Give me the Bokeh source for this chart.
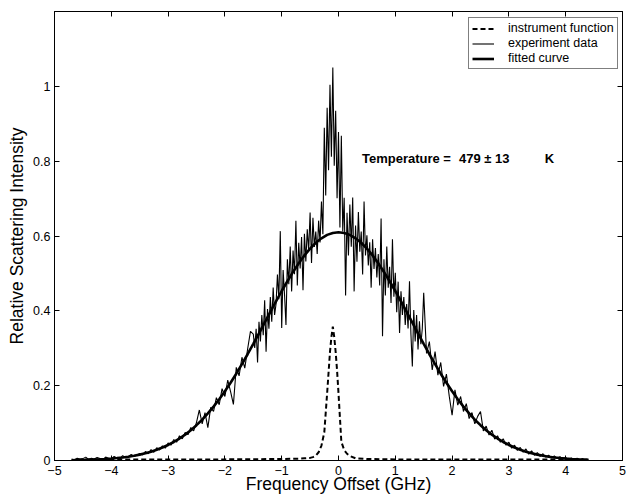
import numpy as np
from bokeh.plotting import figure
from bokeh.models import (Range1d, LinearAxis, FixedTicker, CustomJSTickFormatter,
                          Legend, LegendItem, Label)
from bokeh.embed import file_html
from bokeh.resources import INLINE

# ---------------- data ----------------
# experiment data: three sampling segments
exp_x_left = np.linspace(-4.70, -1.55, 64)
exp_y_left = [0.004, 0.002, 0.006, 0.003, 0.005, 0.009, 0.003, 0.006, 0.004, 0.008,
              0.005, 0.003, 0.009, 0.006, 0.004, 0.011, 0.007, 0.005, 0.013, 0.008,
              0.010, 0.016, 0.011, 0.014, 0.019,
              0.015, 0.024, 0.018, 0.029, 0.022, 0.034, 0.028, 0.039, 0.033, 0.047,
              0.041, 0.056, 0.049, 0.066, 0.058, 0.075, 0.069, 0.088, 0.079, 0.102,
              0.135, 0.098, 0.128, 0.088, 0.142, 0.131, 0.168, 0.149, 0.192, 0.171,
              0.215, 0.184, 0.150, 0.249, 0.226, 0.276, 0.247, 0.298, 0.345]

exp_x_mid = np.linspace(-1.500, 1.475, 120)
exp_y_mid = [0.338, 0.301, 0.352, 0.262, 0.371, 0.318, 0.389, 0.335,
             0.428, 0.291, 0.405, 0.352, 0.437, 0.371, 0.462, 0.389,
             0.418, 0.497, 0.431, 0.613, 0.354, 0.509, 0.443, 0.362,
             0.538, 0.471, 0.572, 0.452, 0.561, 0.498, 0.641, 0.468,
             0.582, 0.513, 0.597, 0.455, 0.606, 0.532, 0.618, 0.561,
             0.663, 0.528, 0.649, 0.571, 0.612, 0.552, 0.641, 0.583,
             0.692, 0.605, 0.889, 0.708, 0.943, 0.776, 1.004, 0.812,
             1.050, 0.788, 0.935, 0.701, 0.878, 0.623, 0.868, 0.612,
             0.702, 0.441, 0.662, 0.548, 0.684, 0.571, 0.703, 0.452,
             0.628, 0.531, 0.664, 0.558, 0.612, 0.497, 0.692, 0.548,
             0.602, 0.521, 0.583, 0.462, 0.591, 0.512, 0.568, 0.489,
             0.552, 0.468, 0.647, 0.332, 0.538, 0.441, 0.572, 0.462,
             0.518, 0.421, 0.591, 0.438, 0.502, 0.396, 0.478, 0.341,
             0.452, 0.389, 0.437, 0.362, 0.418, 0.353, 0.479, 0.338,
             0.251, 0.402, 0.318, 0.389, 0.297, 0.372, 0.311, 0.352]

exp_x_right = np.linspace(1.50, 4.40, 59)
exp_y_right = [0.448, 0.286, 0.318, 0.242, 0.291, 0.228, 0.262, 0.198, 0.231, 0.172,
               0.121, 0.189, 0.148, 0.171, 0.131, 0.152, 0.112, 0.128, 0.098, 0.118,
               0.131, 0.079, 0.092, 0.068, 0.081, 0.057, 0.066, 0.049, 0.058, 0.041,
               0.049, 0.033, 0.041, 0.027, 0.035, 0.022, 0.031, 0.017, 0.026, 0.014,
               0.021, 0.011, 0.018, 0.009, 0.014, 0.007, 0.012, 0.006, 0.010, 0.004,
               0.008, 0.003, 0.007, 0.002, 0.006, 0.002, 0.005, 0.001, 0.003]

# fitted curve
fit_x = np.linspace(-4.7, 4.4, 92)
fit_y = [0.0008, 0.0011, 0.0014, 0.0019, 0.0024, 0.0031, 0.0040, 0.0051, 0.0065, 0.0082,
         0.0102, 0.0127, 0.0157, 0.0193, 0.0236, 0.0287, 0.0346, 0.0415, 0.0495, 0.0587,
         0.0692, 0.0810, 0.0944, 0.1090, 0.1258, 0.1440, 0.1636, 0.1850, 0.2077, 0.2320,
         0.2574, 0.2840, 0.3117, 0.3400, 0.3683, 0.3970, 0.4251, 0.4530, 0.4790, 0.5040,
         0.5270, 0.5480, 0.5661, 0.5820, 0.5938, 0.6030, 0.6082, 0.6100,
         0.6082, 0.6030, 0.5938, 0.5820, 0.5661, 0.5480, 0.5270, 0.5040, 0.4790, 0.4530,
         0.4251, 0.3970, 0.3683, 0.3400, 0.3117, 0.2840, 0.2574, 0.2320, 0.2077, 0.1850,
         0.1636, 0.1440, 0.1258, 0.1090, 0.0944, 0.0810, 0.0692, 0.0587, 0.0495, 0.0415,
         0.0346, 0.0287, 0.0236, 0.0193, 0.0157, 0.0127, 0.0102, 0.0082, 0.0065, 0.0051,
         0.0040, 0.0031, 0.0024, 0.0019]

# instrument function
inst_x = [-4.6, -3.0, -2.0, -1.0, -0.7, -0.6, -0.5, -0.45, -0.4, -0.35, -0.3, -0.25,
          -0.2, -0.15, -0.125, -0.1, -0.075, -0.05, -0.025, 0.0, 0.05, 0.1, 0.15, 0.2,
          0.3, 0.5, 1.0, 2.0, 3.0, 4.4]
inst_y = [0.003, 0.003, 0.003, 0.004, 0.005, 0.006, 0.007, 0.009, 0.013, 0.022, 0.040,
          0.075, 0.180, 0.290, 0.330, 0.358, 0.330, 0.290, 0.240, 0.180, 0.050, 0.028,
          0.018, 0.012, 0.006, 0.004, 0.003, 0.003, 0.003, 0.003]

x_ticks = [-5, -4, -3, -2, -1, 0, 1, 2, 3, 4, 5]
y_ticks = [0, 0.2, 0.4, 0.6, 0.8, 1.0]

exp_x = np.concatenate([exp_x_left, exp_x_mid, exp_x_right])
exp_y = np.array(exp_y_left + exp_y_mid + exp_y_right)

FONT = "Liberation Sans"

p = figure(width=634, height=497, output_backend="svg", toolbar_location=None,
           x_range=Range1d(-5, 5), y_range=Range1d(0, 1.2),
           min_border_left=54, min_border_right=12, min_border_top=11, min_border_bottom=37)
p.grid.visible = False
p.outline_line_color = "black"
p.outline_line_width = 1
p.background_fill_color = "white"
p.border_fill_color = "white"

r_inst = p.line(inst_x, inst_y, line_color="black", line_width=2, line_dash="5 3")
r_exp = p.line(exp_x, exp_y, line_color="black", line_width=1.1)
r_fit = p.line(fit_x, fit_y, line_color="black", line_width=2.6)

xfmt = CustomJSTickFormatter(code="""
var v = Math.round(tick*10)/10;
return v < 0 ? "\u2212" + (-v) : "" + v;
""")
yfmt = CustomJSTickFormatter(code="""
var v = Math.round(tick*10)/10;
return "" + v;
""")

def style_axis(ax, ticks, fmt, show_labels=True):
    ax.ticker = FixedTicker(ticks=ticks)
    ax.formatter = fmt
    ax.major_tick_in = 5
    ax.major_tick_out = 0
    ax.minor_tick_line_color = None
    ax.axis_line_color = "black"
    ax.major_tick_line_color = "black"
    ax.major_label_text_font = FONT
    ax.major_label_text_color = "black"
    ax.axis_label_text_font = FONT
    ax.axis_label_text_font_style = "normal"
    ax.axis_label_text_color = "black"
    if show_labels:
        ax.major_label_text_font_size = "12.5px"
        ax.major_label_standoff = 4
        ax.axis_label_text_font_size = "17.5px"
    else:
        ax.major_label_text_font_size = "1px"
        ax.major_label_text_color = None
        ax.major_label_standoff = 0

xa = p.xaxis[0]
style_axis(xa, x_ticks, xfmt)
xa.axis_label = "Frequency Offset (GHz)"
xa.major_label_standoff = 5
xa.axis_label_standoff = -4

ya = p.yaxis[0]
style_axis(ya, y_ticks, yfmt)
ya.axis_label = "Relative Scattering Intensity"
ya.axis_label_standoff = 3

top = LinearAxis()
style_axis(top, x_ticks, xfmt, show_labels=False)
p.add_layout(top, "above")
right = LinearAxis()
style_axis(right, y_ticks, yfmt, show_labels=False)
p.add_layout(right, "right")

legend = Legend(items=[LegendItem(label="instrument function", renderers=[r_inst]),
                       LegendItem(label="experiment data", renderers=[r_exp]),
                       LegendItem(label="fitted curve", renderers=[r_fit])],
                location=(414, 391))
legend.label_text_font = FONT
legend.label_text_font_size = "12.5px"
legend.label_text_color = "black"
legend.glyph_width = 22
legend.glyph_height = 13
legend.label_height = 13
legend.label_standoff = 14
legend.spacing = 1
legend.padding = 3
legend.margin = 0
legend.border_line_color = "black"
legend.border_line_width = 1
legend.background_fill_alpha = 1
p.add_layout(legend, "center")

for txt, xx in [("Temperature =", 0.413), ("479 \u00b1 13", 2.12), ("K", 3.63)]:
    p.add_layout(Label(x=xx, y=0.807, text=txt, text_font=FONT, text_font_size="13px",
                       text_font_style="bold", text_baseline="middle", text_color="black"))

open("out.html", "w").write(file_html(p, INLINE))
